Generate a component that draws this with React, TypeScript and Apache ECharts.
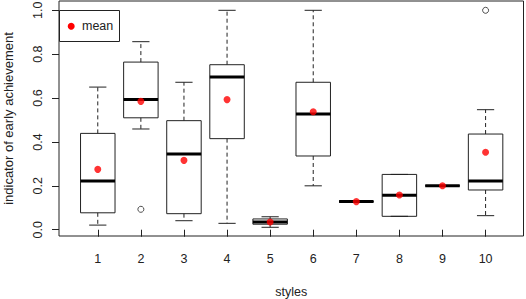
import React, { useEffect, useRef } from "react";
import * as echarts from "echarts";

const categories = [1, 2, 3, 4, 5, 6, 7, 8, 9, 10];
const lowerWhisker = [0.021, 0.459, 0.041, 0.029, 0.011, 0.2, 0.128, 0.061, 0.2, 0.064];
const q1 = [0.077, 0.51, 0.073, 0.415, 0.025, 0.336, 0.128, 0.061, 0.2, 0.181];
const median = [0.222, 0.594, 0.345, 0.696, 0.035, 0.527, 0.128, 0.157, 0.2, 0.222];
const q3 = [0.439, 0.764, 0.497, 0.752, 0.049, 0.672, 0.128, 0.252, 0.2, 0.436];
const upperWhisker = [0.65, 0.857, 0.672, 1.0, 0.059, 1.0, 0.128, 0.252, 0.2, 0.547];
const means = [0.275, 0.585, 0.316, 0.593, 0.035, 0.538, 0.128, 0.158, 0.2, 0.353];
const outliers: [number, number][] = [
  [2, 0.093],
  [10, 1.0],
];
const yTicks = [0, 0.2, 0.4, 0.6, 0.8, 1.0];

const FONT = "Liberation Sans, Arial, sans-serif";
const INK = "#222";

export default function App() {
  const ref = useRef<HTMLDivElement>(null);
  useEffect(() => {
    document.body.style.margin = "0";
    if (!ref.current) return;
    const chart = echarts.init(ref.current, undefined, { renderer: "svg" });
    const boxData = categories.map((c, i) => [
      c,
      lowerWhisker[i],
      q1[i],
      median[i],
      q3[i],
      upperWhisker[i],
    ]);
    const option: any = {
      animation: false,
      grid: {
        left: 59,
        right: 2.5,
        top: 1,
        bottom: 63,
        containLabel: false,
        outerBoundsMode: "none",
        show: true,
        borderColor: INK,
        borderWidth: 1,
        backgroundColor: "transparent",
      },
      xAxis: {
        type: "value",
        min: 0.1,
        max: 10.88,
        name: "styles",
        nameLocation: "middle",
        nameGap: 49,
        nameTextStyle: { fontFamily: FONT, fontSize: 12.5, color: INK },
        axisLine: { show: false },
        splitLine: { show: false },
        axisTick: {
          show: true,
          inside: false,
          length: 7,
          customValues: categories,
          lineStyle: { color: INK },
        },
        axisLabel: {
          customValues: categories,
          margin: 16.5,
          fontFamily: FONT,
          fontSize: 12.5,
          color: INK,
        },
      },
      yAxis: {
        type: "value",
        min: -0.0287,
        max: 1.0424,
        name: "indicator of early achievement",
        nameLocation: "middle",
        nameGap: 44,
        nameTextStyle: { fontFamily: FONT, fontSize: 13, color: INK },
        axisLine: { show: false },
        splitLine: { show: false },
        axisTick: {
          show: true,
          inside: false,
          length: 7,
          customValues: yTicks,
          lineStyle: { color: INK },
        },
        axisLabel: {
          customValues: yTicks,
          rotate: 90,
          margin: 15,
          fontFamily: FONT,
          fontSize: 12.5,
          color: INK,
          formatter: (v: number) => v.toFixed(1),
        },
      },
      series: [
        {
          type: "custom",
          name: "box",
          data: boxData,
          encode: { x: 0, y: [1, 2, 3, 4, 5] },
          z: 2,
          renderItem: (params: any, api: any) => {
            const x = api.value(0);
            const lo = api.value(1);
            const bq1 = api.value(2);
            const med = api.value(3);
            const bq3 = api.value(4);
            const hi = api.value(5);
            const px = api.coord([x, 0])[0];
            const yy = (v: number) => api.coord([x, v])[1];
            const halfW = api.size([0.4, 0])[0];
            const capHalf = api.size([0.2, 0])[0];
            const stroke = { stroke: INK, lineWidth: 1, fill: null };
            const children: any[] = [];
            if (hi > bq3) {
              children.push({
                type: "line",
                shape: { x1: px, y1: yy(bq3), x2: px, y2: yy(hi) },
                style: { ...stroke, lineDash: [4, 3] },
              });
            }
            if (lo < bq1) {
              children.push({
                type: "line",
                shape: { x1: px, y1: yy(bq1), x2: px, y2: yy(lo) },
                style: { ...stroke, lineDash: [4, 3] },
              });
            }
            children.push({
              type: "line",
              shape: { x1: px - capHalf, y1: yy(hi), x2: px + capHalf, y2: yy(hi) },
              style: stroke,
            });
            children.push({
              type: "line",
              shape: { x1: px - capHalf, y1: yy(lo), x2: px + capHalf, y2: yy(lo) },
              style: stroke,
            });
            children.push({
              type: "rect",
              shape: {
                x: px - halfW,
                y: yy(bq3),
                width: 2 * halfW,
                height: yy(bq1) - yy(bq3),
              },
              style: stroke,
            });
            children.push({
              type: "line",
              shape: { x1: px - halfW, y1: yy(med), x2: px + halfW, y2: yy(med) },
              style: { stroke: "#000", lineWidth: 3 },
            });
            return { type: "group", children };
          },
        },
        {
          type: "scatter",
          name: "outliers",
          data: outliers,
          symbol: "circle",
          symbolSize: 6,
          itemStyle: { color: "#fff", borderColor: INK, borderWidth: 1 },
          z: 3,
        },
        {
          type: "scatter",
          name: "mean",
          data: categories.map((c, i) => [c, means[i]]),
          symbol: "circle",
          symbolSize: 7,
          itemStyle: { color: "#ff0000" },
          z: 4,
        },
      ],
      graphic: [
        {
          type: "group",
          left: 59,
          top: 10,
          children: [
            {
              type: "rect",
              shape: { x: 0, y: 0, width: 60, height: 31 },
              style: { fill: "#fff", stroke: INK, lineWidth: 1 },
            },
            {
              type: "circle",
              shape: { cx: 11.7, cy: 15.7, r: 3.5 },
              style: { fill: "#ff0000" },
            },
            {
              type: "text",
              x: 22.5,
              y: 15.7,
              style: {
                text: "mean",
                fontFamily: FONT,
                fontSize: 12.5,
                fill: INK,
                verticalAlign: "middle",
              },
            },
          ],
        },
      ],
    };
    chart.setOption(option);
    return () => chart.dispose();
  }, []);
  return <div ref={ref} style={{ width: 526, height: 299 }} />;
}
